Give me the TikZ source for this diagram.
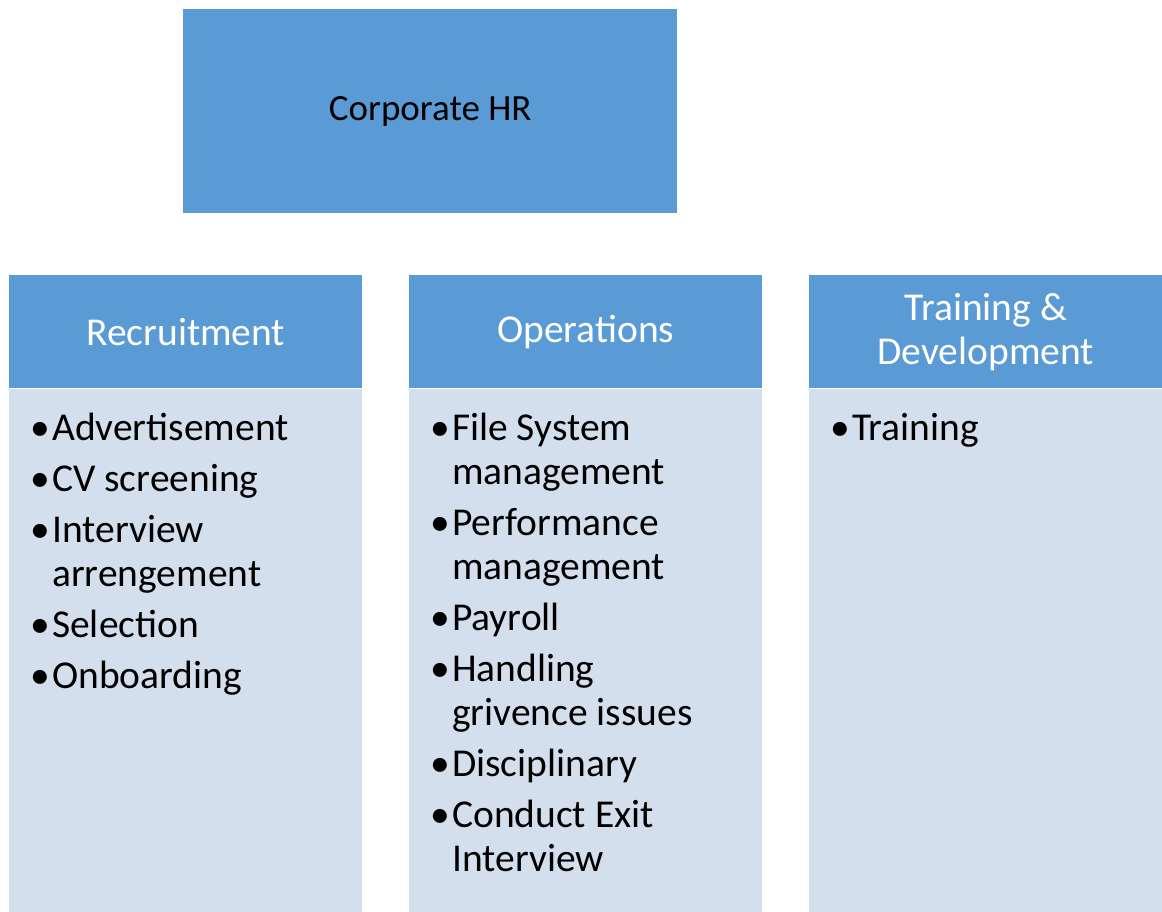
\documentclass[tikz,border=0pt]{standalone}
\usepackage{fontspec}
\setmainfont{Carlito}
\usetikzlibrary{positioning}
\definecolor{hrblue}{HTML}{5B9BD5}
\definecolor{hrlight}{HTML}{D4DFEE}
\newcommand{\hrb}{\makebox[22pt][l]{\textbullet}}
\begin{document}
\begin{tikzpicture}[x=1pt,y=-1pt,
  headbox/.style={fill=hrblue, text=white, minimum width=353pt, minimum height=113pt,
    inner sep=0pt, align=center, anchor=north west, font=\fontsize{39.5}{44}\selectfont},
  bodybox/.style={fill=hrlight, minimum width=353pt, minimum height=523pt, inner sep=0pt},
  itemlist/.style={inner sep=0pt, font=\fontsize{39.5}{44}\selectfont}]
\useasboundingbox (0,0) rectangle (1162,911);
% top box
\node[fill=hrblue, minimum width=494pt, minimum height=204pt, anchor=north west,
  font=\fontsize{37}{44}\selectfont] (corp) at (183,9) {Corporate HR};
% column heads
\node[headbox] (rec) at (9,275) {Recruitment};
\node[headbox] (ops) at (409,275) {Operations};
\node[headbox] (trd) at (809,275) {Training \&\\Development};
% column bodies
\node[bodybox, below=0pt of rec] (recbody) {};
\node[bodybox, below=0pt of ops] (opsbody) {};
\node[bodybox, below=0pt of trd] (trdbody) {};
% lists
\node[itemlist, below right=21pt and 21pt of recbody.north west] (reclist) {%
  \begin{tabular}{@{}l@{}}
  \hrb Advertisement\\[7pt]
  \hrb CV screening\\[7pt]
  \hrb Interview\\
  \hphantom{\hrb}arrengement\\[7pt]
  \hrb Selection\\[7pt]
  \hrb Onboarding
  \end{tabular}};
\node[itemlist, below right=21pt and 21pt of opsbody.north west] (opslist) {%
  \begin{tabular}{@{}l@{}}
  \hrb File System\\
  \hphantom{\hrb}management\\[7pt]
  \hrb Performance\\
  \hphantom{\hrb}management\\[7pt]
  \hrb Payroll\\[7pt]
  \hrb Handling\\
  \hphantom{\hrb}grivence issues\\[7pt]
  \hrb Disciplinary\\[7pt]
  \hrb Conduct Exit\\
  \hphantom{\hrb}Interview
  \end{tabular}};
\node[itemlist, below right=21pt and 21pt of trdbody.north west] (trdlist) {%
  \begin{tabular}{@{}l@{}}
  \hrb Training
  \end{tabular}};
\end{tikzpicture}
\end{document}
